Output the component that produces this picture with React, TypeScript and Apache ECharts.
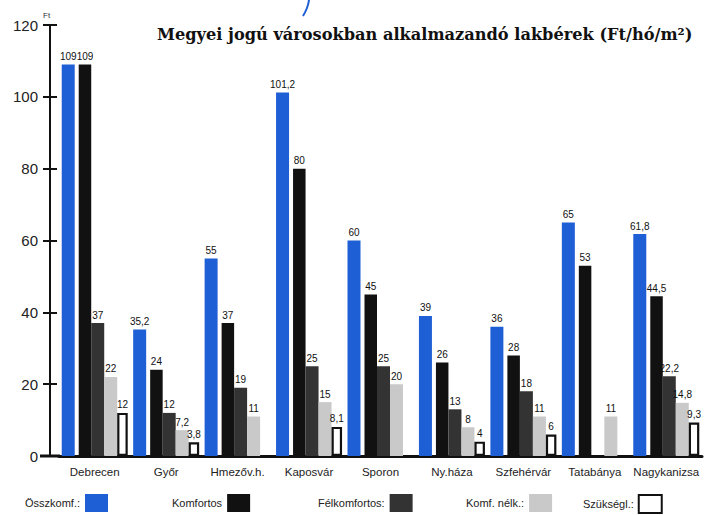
import React, { useEffect, useRef } from "react";
import * as echarts from "echarts";

const categories = ["Debrecen", "Győr", "Hmezőv.h.", "Kaposvár", "Sporon", "Ny.háza", "Szfehérvár", "Tatabánya", "Nagykanizsa"];
const osszkomf = [109, 35.2, 55, 101.2, 60, 39, 36, 65, 61.8];
const komfortos = [109, 24, 37, 80, 45, 26, 28, 53, 44.5];
const felkomfortos = [37, 12, 19, 25, 25, 13, 18, null, 22.2];
const komfNelk = [22, 7.2, 11, 15, 20, 8, 11, 11, 14.8];
const szuksegl = [12, 3.8, null, 8.1, null, 4, 6, null, 9.3];
const seriesNames = ["Összkomf.:", "Komfortos", "Félkomfortos:", "Komf. nélk.:", "Szükségl.:"];
const yTicks = { min: 0, max: 120, interval: 20 };

const FONT = "'Liberation Sans Narrow', 'Liberation Sans', Arial, sans-serif";

export default function App() {
  const ref = useRef<HTMLDivElement>(null);
  useEffect(() => {
    if (!ref.current) return;
    const chart = echarts.init(ref.current, null, { renderer: "svg" });
    const labelCfg = {
      show: true,
      position: "top",
      distance: 3,
      fontSize: 10,
      fontFamily: FONT,
      color: "#111",
      formatter: (p: any) => String(p.value).replace(".", ","),
    };
    const mk = (name: string, data: any[], color: string, width: number, extra: any = {}) => ({
      type: "bar",
      name,
      data,
      barWidth: width,
      barGap: "0%",
      itemStyle: { color, ...extra },
      label: labelCfg,
    });
    const legendPos = [25, 172, 318, 466, 583];
    chart.setOption({
      animation: false,
      backgroundColor: "#fff",
      title: {
        text: "Megyei jogú városokban alkalmazandó lakbérek (Ft/hó/m²)",
        left: 152,
        top: 21,
        textStyle: { fontFamily: "'DejaVu Serif', serif", fontWeight: "bold", fontSize: 16.2, color: "#111" },
      },
      grid: { left: 59, right: 5, top: 25, bottom: 59 },
      legend: seriesNames.map((n, i) => ({
        data: [n],
        left: legendPos[i],
        top: 494,
        align: "right",
        icon: "rect",
        itemWidth: 23,
        itemHeight: 18,
        itemGap: 0,
        padding: 0,
        textStyle: { fontFamily: FONT, fontSize: 11, color: "#222" },
        selectedMode: false,
      })),
      xAxis: {
        type: "category",
        data: categories,
        axisLine: { lineStyle: { color: "#111", width: 3 } },
        axisTick: { show: false },
        axisLabel: { fontFamily: FONT, fontSize: 11.5, color: "#222", margin: 10, interval: 0 },
      },
      yAxis: [
        {
          type: "value",
          ...yTicks,
          offset: 9,
          axisLine: { show: true, lineStyle: { color: "#111", width: 2 } },
          axisTick: { show: true, inside: false, length: 7, lineStyle: { color: "#111", width: 2 } },
          axisLabel: { fontFamily: FONT, fontSize: 15, color: "#222", margin: 12 },
          splitLine: { show: false },
        },
        {
          type: "value",
          ...yTicks,
          position: "left",
          offset: 9,
          axisLine: { show: false },
          axisTick: { show: true, inside: true, length: 7, lineStyle: { color: "#111", width: 2 } },
          axisLabel: { show: false },
          splitLine: { show: false },
        },
      ],
      series: [
        mk(seriesNames[0], osszkomf, "#1f5fd6", 13),
        { type: "bar", name: "spacer", data: categories.map(() => null), barWidth: 4, barGap: "0%", silent: true },
        mk(seriesNames[1], komfortos, "#111111", 12.5),
        mk(seriesNames[2], felkomfortos, "#333333", 13),
        mk(seriesNames[3], komfNelk, "#c9c9c9", 13),
        mk(seriesNames[4], szuksegl, "#ffffff", 10.5, { borderColor: "#111", borderWidth: 2.2 }),
      ],
      graphic: [
        { type: "text", left: 43, top: 11, style: { text: "Ft", fontSize: 8, fontFamily: FONT, fill: "#333" } },
        { type: "line", shape: { x1: 40, y1: 456, x2: 60, y2: 456 }, style: { stroke: "#111", lineWidth: 3 } },
        { type: "bezierCurve", shape: { x1: 309, y1: 0, x2: 303, y2: 16, cpx1: 308, cpy1: 8 }, style: { stroke: "#1f5fd6", lineWidth: 2, fill: "none" } },
      ],
    });
    return () => chart.dispose();
  }, []);
  return <div ref={ref} style={{ width: 707, height: 515, position: "absolute", left: 0, top: 0 }} />;
}
